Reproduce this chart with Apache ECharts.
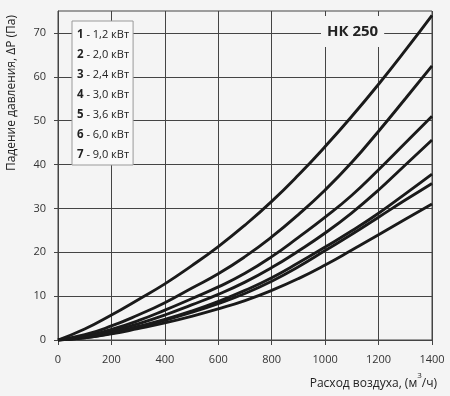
<!DOCTYPE html>
<html>
<head>
<meta charset="utf-8">
<script src="https://cdn.jsdelivr.net/npm/echarts@6/dist/echarts.min.js"></script>
<style>
html,body{margin:0;padding:0;background:#f4f4f4;}
#c{width:450px;height:396px;}
</style>
</head>
<body>
<div id="c"></div>
<script>
// Air flow, m3/h
const flowValues = [0, 100, 200, 300, 400, 500, 600, 700, 800, 900, 1000, 1100, 1200, 1300, 1400];
// Pressure drop, Pa
const curveA = [0, 2.5, 5.7, 9.2, 12.8, 16.9, 21.3, 26.2, 31.6, 37.6, 44.1, 51.0, 58.3, 66.0, 74.0];
const curveB = [0, 1.2, 3.2, 5.7, 8.5, 11.8, 15.1, 19.0, 23.5, 28.6, 34.2, 40.5, 47.6, 55.0, 62.5];
const curveC = [0, 0.8, 2.4, 4.4, 6.8, 9.4, 12.1, 15.2, 19.0, 23.4, 28.0, 33.0, 38.8, 44.9, 51.0];
const curveD = [0, 0.7, 2.0, 3.7, 5.7, 8.0, 10.4, 13.2, 16.5, 20.3, 24.4, 29.0, 34.2, 39.9, 45.6];
const curveE = [0, 0.6, 1.7, 3.1, 4.7, 6.6, 8.8, 11.3, 14.2, 17.6, 21.2, 24.9, 28.9, 33.3, 37.8];
const curveF = [0, 0.5, 1.5, 2.9, 4.5, 6.3, 8.3, 10.6, 13.4, 16.7, 20.4, 24.1, 28.0, 31.9, 35.7];
const curveG = [0, 0.5, 1.4, 2.6, 3.9, 5.4, 7.1, 9.0, 11.3, 14.0, 17.1, 20.5, 24.0, 27.5, 31.0];

const legendLabels = ['1 - 1,2 кВт', '2 - 2,0 кВт', '3 - 2,4 кВт', '4 - 3,0 кВт', '5 - 3,6 кВт', '6 - 6,0 кВт', '7 - 9,0 кВт'];
const curvesByLegend = [curveG, curveF, curveE, curveD, curveC, curveB, curveA];

const xTickLabels = [0, 200, 400, 600, 800, 1000, 1200, 1400];
const yTickLabels = [0, 10, 20, 30, 40, 50, 60, 70];

const titleText = 'НК 250';
const yAxisTitle = 'Падение давления, ΔP (Па)';

const FONT = '"Open Sans", "Noto Sans", sans-serif';
const lineColor = '#1a1a1a';
const gridColor = '#444';

const series = legendLabels.map((name, k) => ({
  name: name,
  type: 'line',
  smooth: true,
  symbol: 'none',
  lineStyle: { color: lineColor, width: 2.9 },
  itemStyle: { color: lineColor },
  data: flowValues.map((x, i) => [x, curvesByLegend[k][i]])
}));

const chart = echarts.init(document.getElementById('c'), null, { renderer: 'canvas' });
chart.setOption({
  backgroundColor: '#f4f4f4',
  animation: false,
  textStyle: { fontFamily: FONT },
  grid: { left: 58, right: 18, top: 11, bottom: 56, show: true, borderColor: gridColor, borderWidth: 1, backgroundColor: 'transparent' },
  title: {
    text: titleText,
    left: 321, top: 16,
    padding: [8, 6, 8, 6],
    backgroundColor: '#f4f4f4',
    textStyle: { fontSize: 15, fontWeight: 'bold', color: '#222', fontFamily: FONT }
  },
  legend: {
    orient: 'vertical',
    left: 72, top: 21,
    icon: 'none',
    itemWidth: 0, itemHeight: 14, itemGap: 7,
    padding: [7, 4, 4, 0],
    backgroundColor: '#f8f8f8',
    borderColor: '#9a9a9a', borderWidth: 1,
    selectedMode: false,
    data: legendLabels,
    formatter: function (name) {
      const num = name.split(' - ')[0];
      const rest = name.substring(num.length);
      return '{b|' + num + '}{n|' + rest + '}';
    },
    textStyle: {
      fontFamily: FONT, fontSize: 11, color: '#222',
      rich: {
        b: { fontWeight: 'bold', fontSize: 11.5, color: '#222', fontFamily: FONT },
        n: { fontSize: 11, color: '#222', fontFamily: FONT }
      }
    }
  },
  xAxis: {
    type: 'value', min: 0, max: 1400, interval: 100,
    axisLine: { show: true, lineStyle: { color: gridColor, width: 1 } },
    axisTick: { show: true, length: 5, customValues: xTickLabels, lineStyle: { color: gridColor } },
    axisLabel: { customValues: xTickLabels, margin: 14, fontSize: 11, color: '#333', fontFamily: FONT, formatter: function (v) { return String(v); } },
    splitLine: { show: true, lineStyle: { color: gridColor, width: 1 } }
  },
  yAxis: {
    type: 'value', min: 0, max: 75, interval: 5,
    axisLine: { show: true, lineStyle: { color: gridColor, width: 1 } },
    axisTick: { show: true, length: 4, customValues: yTickLabels, lineStyle: { color: gridColor } },
    axisLabel: { customValues: yTickLabels, margin: 12, fontSize: 11, color: '#333', fontFamily: FONT, formatter: function (v) { return String(v); } },
    splitLine: { show: true, lineStyle: { color: gridColor, width: 1 } }
  },
  graphic: [
    {
      type: 'text',
      x: 12, y: 15,
      rotation: Math.PI / 2,
      style: {
        text: yAxisTitle,
        align: 'right', verticalAlign: 'middle',
        fontSize: 12, fill: '#222', fontFamily: FONT
      }
    },
    {
      type: 'text',
      right: 13, top: 372,
      style: {
        text: '{n|Расход воздуха, (м}{s|3}{n|/ч)}',
        rich: {
          n: { fontSize: 12, fill: '#222', color: '#222', fontFamily: FONT, verticalAlign: 'bottom', lineHeight: 18 },
          s: { fontSize: 8, fill: '#222', color: '#222', fontFamily: FONT, verticalAlign: 'top', lineHeight: 18, padding: [0, 0, 6, 0] }
        }
      }
    }
  ],
  series: series
});
</script>
</body>
</html>
